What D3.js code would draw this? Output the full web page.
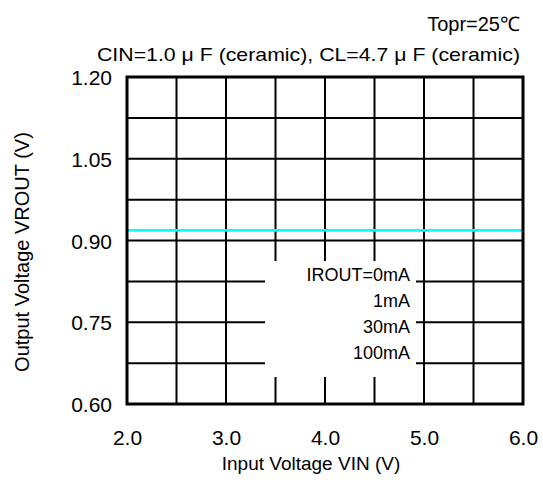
<!DOCTYPE html>
<html>
<head>
<meta charset="utf-8">
<script src="https://cdn.jsdelivr.net/npm/d3@7"></script>
<style>
  html, body { margin: 0; padding: 0; background: #fff; }
  svg { display: block; }
  text { font-family: "Liberation Sans", Arial, sans-serif; fill: #000; }
</style>
</head>
<body>
<svg id="chart" width="543" height="480"></svg>
<script>
// ---- data ----
const xTicks = [2.0, 3.0, 4.0, 5.0, 6.0];
const xTickLabels = ["2.0", "3.0", "4.0", "5.0", "6.0"];
const yTicks = [0.60, 0.75, 0.90, 1.05, 1.20];
const yTickLabels = ["0.60", "0.75", "0.90", "1.05", "1.20"];
const xGrid = [2.0, 2.5, 3.0, 3.5, 4.0, 4.5, 5.0, 5.5, 6.0];
const yGrid = [0.60, 0.675, 0.75, 0.825, 0.90, 0.975, 1.05, 1.125, 1.20];
const vin = [2.0, 2.5, 3.0, 3.5, 4.0, 4.5, 5.0, 5.5, 6.0];
const vout0mA   = [0.919, 0.919, 0.919, 0.919, 0.919, 0.919, 0.919, 0.919, 0.919];
const vout1mA   = [0.919, 0.919, 0.919, 0.919, 0.919, 0.919, 0.919, 0.919, 0.919];
const vout30mA  = [0.919, 0.919, 0.919, 0.919, 0.919, 0.919, 0.919, 0.919, 0.919];
const vout100mA = [0.919, 0.919, 0.919, 0.919, 0.919, 0.919, 0.919, 0.919, 0.919];
const legendLabels = ["IROUT=0mA", "1mA", "30mA", "100mA"];
const titleLine1 = "Topr=25℃";
const titleLine2 = "CIN=1.0 μ F (ceramic), CL=4.7 μ F (ceramic)";
const xTitle = "Input Voltage VIN (V)";
const yTitle = "Output Voltage VROUT (V)";

// ---- layout ----
const svg = d3.select("#chart");
const m = { left: 127, right: 20, top: 77, bottom: 76 };
const W = 543, H = 480;
const iw = W - m.left - m.right, ih = H - m.top - m.bottom;
const x = d3.scaleLinear().domain([2, 6]).range([m.left, m.left + iw]);
const y = d3.scaleLinear().domain([0.6, 1.2]).range([m.top + ih, m.top]);
const tickFs = 21, titleFs = 19;

// grid
const g = svg.append("g");
g.selectAll("line.vx").data(xGrid.slice(1, -1)).enter().append("line")
  .attr("x1", d => x(d)).attr("x2", d => x(d))
  .attr("y1", m.top).attr("y2", m.top + ih)
  .attr("stroke", "#000").attr("stroke-width", 2);
g.selectAll("line.hy").data(yGrid.slice(1, -1)).enter().append("line")
  .attr("y1", d => y(d)).attr("y2", d => y(d))
  .attr("x1", m.left).attr("x2", m.left + iw)
  .attr("stroke", "#000").attr("stroke-width", 2);

// series (all overlapping)
const line = d3.line().x((d, i) => x(vin[i])).y(d => y(d));
[vout0mA, vout1mA, vout30mA, vout100mA].forEach(s => {
  svg.append("path").datum(s).attr("d", line)
    .attr("fill", "none").attr("stroke", "#00ffff").attr("stroke-width", 2);
});

// legend box (white, covers grid)
svg.append("rect").attr("x", 265).attr("y", 261).attr("width", 151).attr("height", 116)
  .attr("fill", "#fff");
svg.selectAll("text.leg").data(legendLabels).enter().append("text")
  .attr("x", 410).attr("y", (d, i) => 281 + i * 26)
  .attr("text-anchor", "end").attr("font-size", 18).text(d => d);

// frame
svg.append("rect").attr("x", m.left).attr("y", m.top).attr("width", iw).attr("height", ih)
  .attr("fill", "none").attr("stroke", "#000").attr("stroke-width", 3);

// axes labels via d3 axes (no domain/ticks drawn)
const xAxis = d3.axisBottom(x).tickValues(xTicks).tickFormat((d, i) => xTickLabels[i]).tickSize(0).tickPadding(0);
const xa = svg.append("g").attr("transform", `translate(0,${m.top + ih})`).call(xAxis);
xa.select(".domain").remove();
xa.selectAll("text").attr("font-size", tickFs).attr("font-family", "Liberation Sans, Arial, sans-serif")
  .attr("dy", null).attr("y", 41).attr("fill", "#000");

const yAxis = d3.axisLeft(y).tickValues(yTicks).tickFormat((d, i) => yTickLabels[i]).tickSize(0).tickPadding(0);
const ya = svg.append("g").attr("transform", `translate(${m.left},0)`).call(yAxis);
ya.select(".domain").remove();
ya.selectAll("text").attr("font-size", tickFs).attr("font-family", "Liberation Sans, Arial, sans-serif")
  .attr("x", -15).attr("dy", "0.36em").attr("fill", "#000");

// titles
svg.append("text").attr("x", 520).attr("y", 31).attr("text-anchor", "end")
  .attr("font-size", 20).text(titleLine1);
svg.append("text").attr("x", 520).attr("y", 61).attr("text-anchor", "end")
  .attr("font-size", titleFs).attr("textLength", 423).attr("lengthAdjust", "spacingAndGlyphs")
  .text(titleLine2);
svg.append("text").attr("x", 311).attr("y", 470).attr("text-anchor", "middle")
  .attr("font-size", titleFs).text(xTitle);
svg.append("text").attr("transform", `translate(29,${252}) rotate(-90)`)
  .attr("text-anchor", "middle").attr("font-size", 20).text(yTitle);
</script>
</body>
</html>
